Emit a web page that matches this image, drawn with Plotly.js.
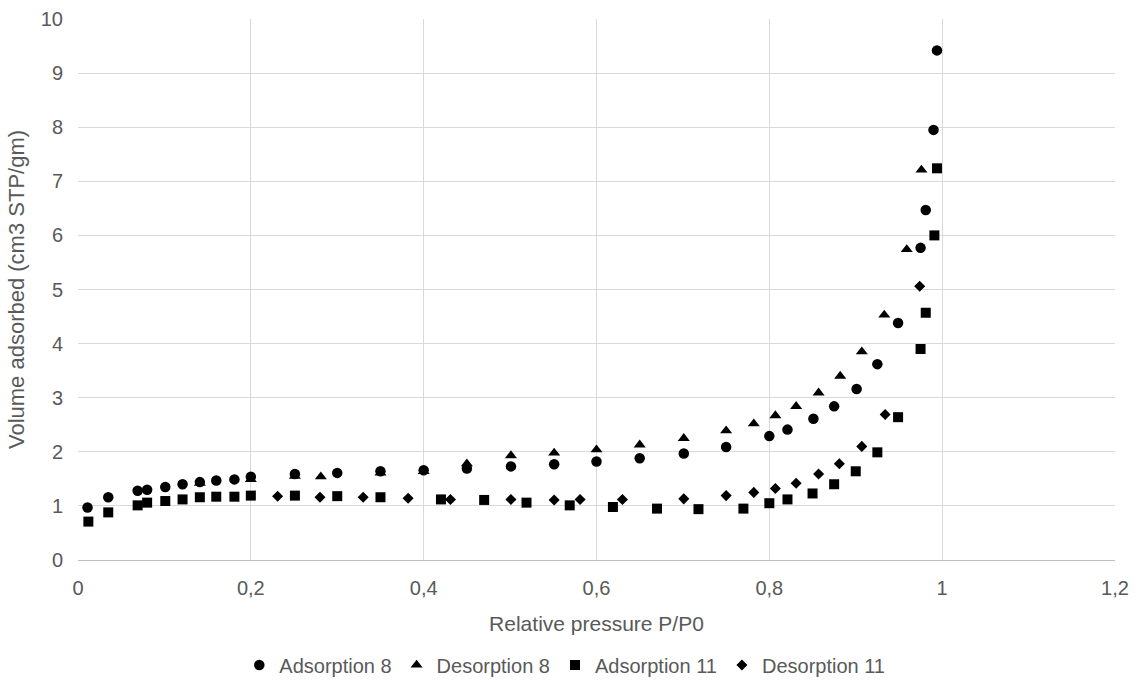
<!DOCTYPE html>
<html>
<head>
<meta charset="utf-8">
<script src="https://cdn.plot.ly/plotly-3.0.1.min.js"></script>
<style>html,body{margin:0;padding:0;background:#fff;}#chart{width:1141px;height:682px;}</style>
</head>
<body>
<div id="chart"></div>
<script>
const ads8X = [0.011, 0.035, 0.069, 0.080, 0.101, 0.121, 0.141, 0.160, 0.181, 0.200, 0.251, 0.300, 0.350, 0.400, 0.450, 0.501, 0.551, 0.600, 0.650, 0.701, 0.750, 0.800, 0.821, 0.851, 0.875, 0.901, 0.925, 0.949, 0.975, 0.981, 0.990, 0.994];
const ads8Y = [0.97, 1.16, 1.28, 1.30, 1.35, 1.40, 1.44, 1.47, 1.49, 1.54, 1.59, 1.61, 1.64, 1.66, 1.69, 1.73, 1.77, 1.82, 1.88, 1.97, 2.09, 2.29, 2.41, 2.61, 2.84, 3.16, 3.62, 4.38, 5.77, 6.47, 7.95, 9.42];

const des8X = [0.141, 0.200, 0.251, 0.281, 0.350, 0.400, 0.450, 0.501, 0.551, 0.600, 0.650, 0.701, 0.750, 0.782, 0.807, 0.831, 0.857, 0.882, 0.907, 0.933, 0.959, 0.976];
const des8Y = [1.42, 1.49, 1.55, 1.54, 1.61, 1.64, 1.78, 1.93, 1.98, 2.04, 2.13, 2.25, 2.39, 2.52, 2.67, 2.84, 3.09, 3.40, 3.85, 4.53, 5.74, 7.21];

const ads11X = [0.012, 0.035, 0.069, 0.080, 0.101, 0.121, 0.141, 0.160, 0.181, 0.200, 0.251, 0.300, 0.350, 0.420, 0.470, 0.519, 0.569, 0.619, 0.670, 0.718, 0.770, 0.800, 0.821, 0.850, 0.875, 0.900, 0.925, 0.949, 0.975, 0.981, 0.991, 0.994];
const ads11Y = [0.71, 0.88, 1.01, 1.06, 1.09, 1.12, 1.16, 1.17, 1.17, 1.19, 1.19, 1.18, 1.16, 1.12, 1.11, 1.06, 1.01, 0.98, 0.95, 0.94, 0.95, 1.05, 1.12, 1.23, 1.40, 1.64, 1.99, 2.64, 3.90, 4.57, 6.00, 7.24];

const des11X = [0.231, 0.280, 0.330, 0.382, 0.431, 0.501, 0.551, 0.581, 0.630, 0.701, 0.750, 0.782, 0.807, 0.831, 0.857, 0.881, 0.907, 0.934, 0.974];
const des11Y = [1.18, 1.16, 1.16, 1.14, 1.12, 1.12, 1.11, 1.12, 1.12, 1.13, 1.19, 1.25, 1.32, 1.42, 1.59, 1.78, 2.10, 2.69, 5.06];

const seriesNames = ['Adsorption 8', 'Desorption 8', 'Adsorption 11', 'Desorption 11'];

const FAM = 'Liberation Sans, Arial, sans-serif';
const GREY = '#595959';
const tickFont = {family: FAM, size: 20, color: GREY};
const xTitleFont = {family: FAM, size: 21, color: GREY};
const yTitleFont = {family: FAM, size: 22, color: GREY};
const legendFont = {family: FAM, size: 20, color: GREY};

function mk(x, y, name, symbol, size) {
  return {x: x, y: y, name: name, type: 'scatter', mode: 'markers',
    marker: {symbol: symbol, size: size, color: '#000000', line: {width: 0}}};
}

const data = [
  mk(ads8X, ads8Y, seriesNames[0], 'circle', 10.5),
  mk(des8X, des8Y, seriesNames[1], 'triangle-up', 10.5),
  mk(ads11X, ads11Y, seriesNames[2], 'square', 10),
  mk(des11X, des11Y, seriesNames[3], 'diamond', 8.5)
];

const layout = {
  width: 1141, height: 682,
  margin: {l: 78, r: 26, t: 19, b: 122, autoexpand: false},
  paper_bgcolor: '#ffffff', plot_bgcolor: '#ffffff',
  separators: ', ',
  font: tickFont,
  showlegend: true,
  legend: {orientation: 'h', x: 0.495, xanchor: 'center', xref: 'container',
    y: 0.025, yanchor: 'middle', yref: 'container',
    font: legendFont, itemwidth: 30, tracegroupgap: 0, bgcolor: 'rgba(0,0,0,0)'},
  xaxis: {
    range: [0, 1.2], dtick: 0.2, tick0: 0,
    showgrid: true, gridcolor: '#d9d9d9', gridwidth: 1,
    zeroline: false, showline: true, linecolor: '#bfbfbf', linewidth: 1,
    ticks: '', tickfont: tickFont, ticklabelstandoff: 10,
    title: {text: 'Relative pressure P/P0', font: xTitleFont, standoff: 18}
  },
  yaxis: {
    range: [0, 10], dtick: 1, tick0: 0,
    showgrid: true, gridcolor: '#d9d9d9', gridwidth: 1,
    zeroline: false, showline: false,
    ticks: '', tickfont: tickFont, ticklabelstandoff: 14,
    title: {text: 'Volume adsorbed (cm3 STP/gm)', font: yTitleFont, standoff: 10}
  }
};

Plotly.newPlot('chart', data, layout, {displayModeBar: false, staticPlot: true});
</script>
</body>
</html>
